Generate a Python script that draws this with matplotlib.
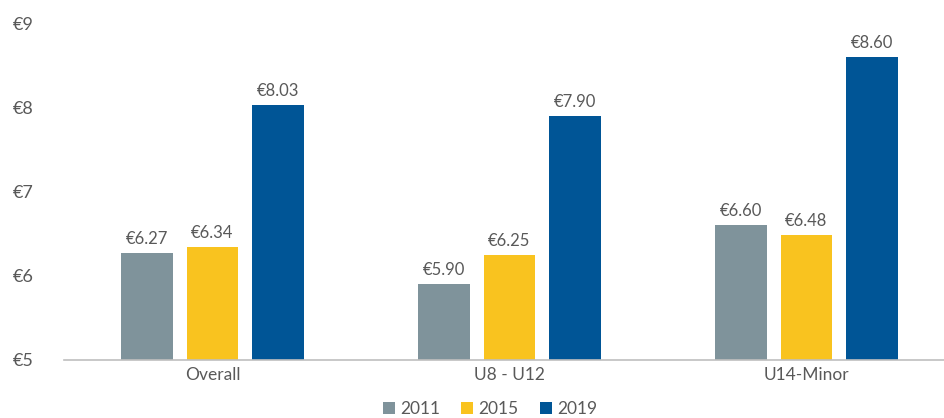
import matplotlib

matplotlib.use("Agg")

import matplotlib.pyplot as plt
import numpy as np

categories = ["Overall", "U8 - U12", "U14-Minor"]
years = ["2011", "2015", "2019"]
values_2011 = [6.27, 5.90, 6.60]
values_2015 = [6.34, 6.25, 6.48]
values_2019 = [8.03, 7.90, 8.60]

colors = ["#7F939B", "#F9C31F", "#005596"]
text_color = "#595959"

plt.rcParams["font.family"] = ["Lato", "DejaVu Sans"]

fig = plt.figure(figsize=(9.45, 4.18), dpi=100)
ax = fig.add_axes([64 / 945, 58 / 418, 891 / 945, 337 / 418])

x = np.arange(len(categories))
width = 0.175
step = 0.222

for i, (year, vals) in enumerate(zip(years, [values_2011, values_2015, values_2019])):
    pos = x + (i - 1) * step
    bars = ax.bar(pos, [v - 5 for v in vals], width, bottom=5, color=colors[i], label=year)
    for b, v in zip(bars, vals):
        ax.text(b.get_x() + b.get_width() / 2, v + 0.07, f"€{v:.2f}",
                ha="center", va="bottom", fontsize=12, color=text_color)

ax.set_xlim(-0.5, 2.5)
ax.set_ylim(5, 9)
ax.set_yticks([5, 6, 7, 8, 9])
ax.set_yticklabels([f"€{t}" for t in [5, 6, 7, 8, 9]], fontsize=13, color=text_color)
ax.set_xticks(x)
ax.set_xticklabels(categories, fontsize=12.5, color=text_color)
ax.tick_params(axis="y", length=0, pad=22)
ax.tick_params(axis="x", length=0, pad=5)

for s in ["top", "right", "left"]:
    ax.spines[s].set_visible(False)
ax.spines["bottom"].set_color("#BFBFBF")
ax.spines["bottom"].set_linewidth(1.2)

leg = fig.legend(loc="center", bbox_to_anchor=(490 / 945, 1 - 409 / 418), ncol=3,
                 frameon=False, fontsize=12.5, handlelength=0.7, handleheight=0.7,
                 handletextpad=0.3, columnspacing=1.2)
for t in leg.get_texts():
    t.set_color(text_color)

fig.savefig("out.png", dpi=100)
